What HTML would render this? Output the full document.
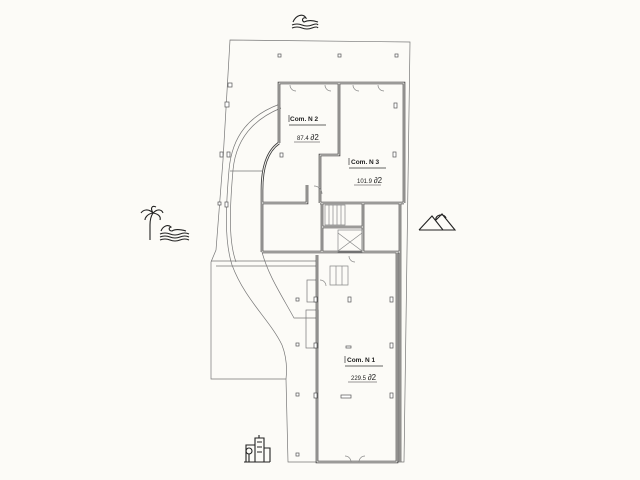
<!DOCTYPE html>
<html><head><meta charset="utf-8"><style>
html,body{margin:0;padding:0;background:#fcfbf7;}
svg{display:block}
text{font-family:"Liberation Sans",sans-serif;fill:#222}
</style></head><body>
<svg width="640" height="480" viewBox="0 0 640 480" xmlns="http://www.w3.org/2000/svg">
<rect width="640" height="480" fill="#fcfbf7"/>
<g fill="none" stroke="#777" stroke-width="0.7">
<path d="M230,40 L410,42 L404,462 L288,462 L286,379 L211,379 L211,262 L216,250 L223,160 Z"/>
<path d="M280,104 C250,115 232,135 229,170 C226,205 224,240 232,265 C245,300 270,320 282,345 C287,358 287,370 286,379"/>
<path d="M281,108 C254,119 236,138 233,170 C230,205 228,240 236,262"/>
<path d="M262,252 C268,275 282,296 294,318 L317,318"/>
<path d="M211,261 L317,261 M216,266 L317,266"/>
<path d="M230,171 L262,171"/>
<rect x="306" y="310" width="12" height="38"/>
<rect x="307" y="280" width="10" height="22"/>
</g>
<g fill="none" stroke="#3a3a3a" stroke-width="2.6">
<path d="M279,143 L279,83 L404,83 L404,203"/>
<path d="M339,83 L339,155 L320,155 L320,203"/>
<path d="M279,143 C266,152 262,170 262,190 L262,252"/>
<path d="M262,203 L307,203 L307,185"/>
<path d="M320,203 L404,203"/>
<path d="M322,203 L322,252 M363,203 L363,252 M322,227 L363,227"/>
<path d="M262,252 L400,252 M317,255 L317,462 L397,462 L397,252"/>
<path d="M400,203 L400,462"/>
</g>
<g fill="none" stroke="#fcfbf7" stroke-width="0.9">
<path d="M279,143 L279,83 L404,83 L404,203"/>
<path d="M339,83 L339,155 L320,155 L320,203"/>
<path d="M279,143 C266,152 262,170 262,190 L262,252"/>
<path d="M262,203 L307,203 L307,185"/>
<path d="M320,203 L404,203"/>
<path d="M322,203 L322,252 M363,203 L363,252 M322,227 L363,227"/>
<path d="M262,252 L400,252 M317,255 L317,462 L397,462 L397,252"/>
<path d="M400,203 L400,462"/>
</g>
<g fill="none" stroke="#888" stroke-width="0.7">
<rect x="338" y="230" width="24" height="22"/>
<path d="M338,233 L362,251 M362,233 L338,251"/>
<path d="M325,205 L345,205 L345,225 L325,225 Z M329,205 L329,225 M333,205 L333,225 M337,205 L337,225 M341,205 L341,225"/>
<path d="M330,266 L348,266 L348,285 L330,285 Z M336,266 L336,285 M342,266 L342,285"/>
<path d="M314,186 A8,8 0 0 1 322,194 M290,85 A6,6 0 0 0 296,91 M325,85 A6,6 0 0 0 331,91 M353,85 A6,6 0 0 0 359,91 M378,85 A6,6 0 0 0 384,91 M320,280 A6,6 0 0 1 326,286 M349,256 A6,6 0 0 0 355,262 M345,456 A6,6 0 0 1 351,462 M365,456 A6,6 0 0 0 359,462"/>
</g>
<g fill="#fff" stroke="#555" stroke-width="0.7">
<rect x="278" y="54" width="3" height="3"/><rect x="338" y="54" width="3" height="3"/><rect x="395" y="54" width="3" height="3"/>
<rect x="228" y="83" width="4" height="4"/><rect x="225" y="102" width="4" height="5"/><rect x="220" y="152" width="3" height="5"/><rect x="227" y="152" width="3" height="5"/>
<rect x="218" y="202" width="3" height="3"/><rect x="225" y="202" width="3" height="5"/>
<rect x="296" y="298" width="3" height="3"/><rect x="296" y="343" width="3" height="3"/><rect x="296" y="393" width="3" height="3"/><rect x="296" y="453" width="3" height="3"/>
<rect x="348" y="297" width="3" height="5"/><rect x="346" y="346" width="5" height="2"/><rect x="341" y="395" width="10" height="3"/>
<rect x="390" y="297" width="3" height="5"/><rect x="390" y="343" width="3" height="5"/><rect x="390" y="393" width="3" height="5"/>
<rect x="314" y="297" width="3" height="5"/><rect x="314" y="343" width="3" height="5"/><rect x="314" y="393" width="3" height="5"/>
<rect x="394" y="103" width="3" height="5"/><rect x="393" y="152" width="3" height="5"/><rect x="280" y="153" width="3" height="4"/>
</g>
<g font-size="6.5">
<text x="290" y="121" font-weight="bold">Com. N 2</text>
<path d="M289,115 L289,122 M289,125 L326,125" stroke="#333" stroke-width="0.7"/>
<text x="297" y="140" font-size="6">87.4 <tspan font-size="8">∂2</tspan></text>
<path d="M294,142 L320,142" stroke="#333" stroke-width="0.6"/>
<text x="351" y="164" font-weight="bold">Com. N 3</text>
<path d="M349,158 L349,165 M349,168 L386,168" stroke="#333" stroke-width="0.7"/>
<text x="357" y="183" font-size="6">101.9 <tspan font-size="8">∂2</tspan></text>
<path d="M354,185 L381,185" stroke="#333" stroke-width="0.6"/>
<text x="347" y="362" font-weight="bold">Com. N 1</text>
<path d="M345,356 L345,363 M345,366 L383,366" stroke="#333" stroke-width="0.7"/>
<text x="351" y="380" font-size="6">229.5 <tspan font-size="8">∂2</tspan></text>
<path d="M348,382 L377,382" stroke="#333" stroke-width="0.6"/>
</g>
<g fill="none" stroke="#222" stroke-width="1.1">
<path d="M293,22 C296,15 303,13 306,18 C303,17 301,20 304,22 C308,20 312,20 318,22"/>
<path d="M292,25 Q297,23 302,25 T312,25 T318,25 M292,28 Q297,26 302,28 T312,28 T318,28"/>
<path d="M150,240 L150,225 C150,220 151,216 153,213"/>
<path d="M153,213 C148,208 143,210 141,213 M153,213 C150,208 152,205 156,207 M153,213 C158,208 162,210 163,213 M153,213 C147,214 145,218 145,220 M153,213 C159,214 161,217 160,220"/>
<path d="M161,231 C163,226 168,224 171,227 C168,228 169,231 172,231 C175,229 179,229 186,231"/>
<path d="M160,234 Q165,232 170,234 T180,234 T189,234 M160,237 Q165,235 170,237 T180,237 T189,237 M160,240 Q165,238 170,240 T180,240 T189,240"/>
<path d="M419,230 L432,216 L443,230 M436,220 L442,214 L455,230 L419,230 M436,220 A5,4 0 0 1 446,218"/>
<path d="M244,462 L270,462 M246,462 L246,445 L255,445 L255,462 M255,462 L255,438 L264,438 L264,462 M264,462 L264,448 L270,448 L270,462 M259,435 L259,438"/>
<circle cx="249" cy="451" r="3"/>
<path d="M249,454 L249,462 M257,442 L262,442 M257,447 L262,447 M257,452 L262,452"/>
</g>
</svg>
</body></html>
